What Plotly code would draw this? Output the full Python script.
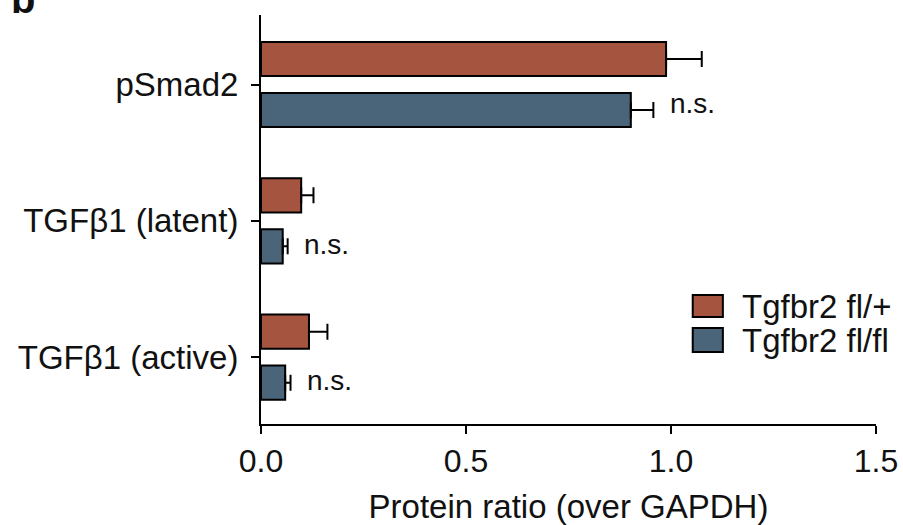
import plotly.graph_objects as go

# ---- data ----
categories = ["pSmad2", "TGFβ1 (latent)", "TGFβ1 (active)"]
series_names = ["Tgfbr2 fl/+", "Tgfbr2 fl/fl"]
het_mean = [0.988, 0.098, 0.117]
het_err = [0.087, 0.030, 0.045]
ko_mean = [0.902, 0.053, 0.059]
ko_err = [0.055, 0.012, 0.013]
sig_labels = ["n.s.", "n.s.", "n.s."]
x_ticks = [0.0, 0.5, 1.0, 1.5]
x_ticktext = ["0.0", "0.5", "1.0", "1.5"]

colors = ["#A5543F", "#4A6479"]
FONT = "Liberation Sans, Arial, Helvetica, sans-serif"
TXT = "#111111"

fig = go.Figure()
for name, means, errs, col in [(series_names[0], het_mean, het_err, colors[0]),
                               (series_names[1], ko_mean, ko_err, colors[1])]:
    fig.add_trace(go.Bar(
        x=means, y=categories, orientation="h", name=name,
        marker=dict(color=col, line=dict(color="black", width=2)),
        error_x=dict(type="data", symmetric=False, array=errs,
                     arrayminus=[0] * len(errs), color="black",
                     thickness=2, width=8),
        showlegend=False,
    ))

# n.s. annotations next to the fl/fl bars
y_shift_px = [7, 2, 2]
for i, lab in enumerate(sig_labels):
    fig.add_annotation(
        x=ko_mean[i] + ko_err[i] + 0.035, y=i + 0.187,
        xref="x", yref="y", text=lab, showarrow=False,
        xanchor="left", yanchor="middle", yshift=y_shift_px[i],
        font=dict(family=FONT, size=28, color=TXT),
    )

# manual legend (large boxes like the reference)
leg_y = [(0.2616, 0.3154), (0.176, 0.2347)]
for k, name in enumerate(series_names):
    fig.add_shape(type="rect", xref="paper", yref="paper",
                  x0=0.702, x1=0.751, y0=leg_y[k][0], y1=leg_y[k][1],
                  fillcolor=colors[k], line=dict(color="black", width=2))
    fig.add_annotation(x=0.779, y=(leg_y[k][0] + leg_y[k][1]) / 2,
                       xref="paper", yref="paper", text=name, showarrow=False,
                       xanchor="left", yanchor="middle",
                       font=dict(family=FONT, size=33, color=TXT))

# panel letter, mostly cut off at the top (as in the reference)
fig.add_annotation(x=-0.41, y=1.0, xref="paper", yref="paper", text="<b>b</b>",
                   showarrow=False, xanchor="left", yanchor="bottom", yshift=-8,
                   font=dict(family=FONT, size=40, color=TXT))

fig.update_layout(
    width=903, height=525,
    margin=dict(l=261, r=27, t=15, b=101),
    paper_bgcolor="white", plot_bgcolor="white",
    barmode="group", bargap=0.252, bargroupgap=0.33,
    font=dict(family=FONT, size=33, color=TXT),
    xaxis=dict(range=[0, 1.5], tickvals=x_ticks, ticktext=x_ticktext,
               automargin=False,
               showgrid=False, zeroline=False, showline=True,
               linecolor="black", linewidth=2, ticks="outside",
               ticklen=8, tickwidth=2, tickcolor="black",
               tickfont=dict(size=32),
               title=dict(text="Protein ratio (over GAPDH)",
                          font=dict(size=33), standoff=18)),
    yaxis=dict(range=[2.49, -0.51], showgrid=False, zeroline=False,
               automargin=False,
               showline=True, linecolor="black", linewidth=2,
               ticks="outside", ticklen=8, tickwidth=2, tickcolor="black",
               tickfont=dict(size=33), ticklabelstandoff=6),
)

fig.write_html("out.html")
